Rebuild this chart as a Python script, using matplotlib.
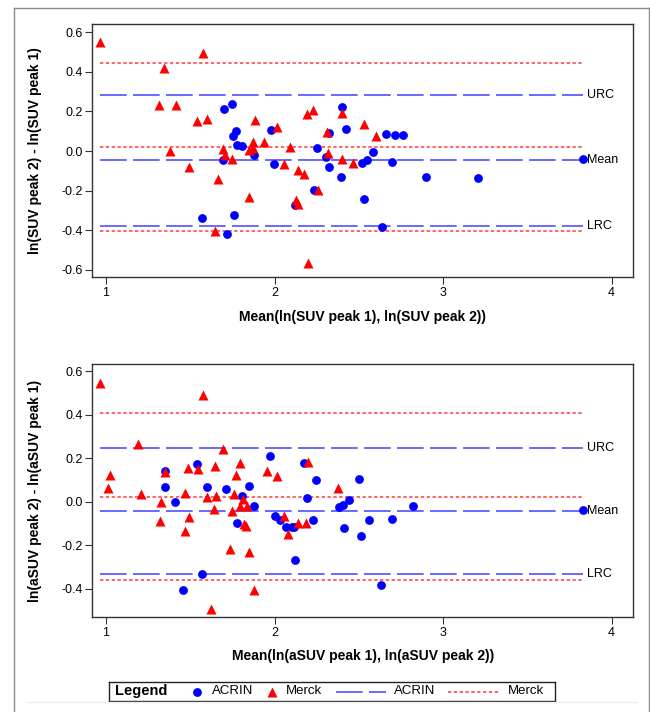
import matplotlib.pyplot as plt
from matplotlib.lines import Line2D

plt.rcParams['font.family'] = ['Liberation Sans', 'DejaVu Sans']

# SUV peak panel
suv_acrin_x = [1.701, 1.745, 1.755, 1.771, 1.775, 1.808, 1.695, 1.879, 1.571, 1.757,
               1.721, 1.982, 1.998, 2.120, 2.235, 2.251, 2.304, 2.322, 2.326, 2.393,
               2.399, 2.427, 2.529, 2.521, 2.547, 2.585, 2.664, 2.715, 2.762, 2.697,
               2.901, 3.209, 2.638, 3.829]
suv_acrin_y = [0.211, 0.238, 0.077, 0.101, 0.030, 0.027, -0.045, -0.020, -0.337, -0.324,
               -0.418, 0.104, -0.064, -0.273, -0.197, 0.017, -0.030, -0.083, 0.089, -0.133,
               0.224, 0.111, -0.243, -0.059, -0.045, -0.003, 0.086, 0.079, 0.081, -0.054,
               -0.131, -0.136, -0.384, -0.039]
suv_merck_x = [0.964, 1.573, 1.342, 1.312, 1.413, 1.543, 1.600, 1.887, 2.016, 1.379,
               1.492, 1.662, 1.692, 1.705, 1.745, 1.846, 1.873, 1.873, 1.935, 1.849,
               1.646, 2.091, 2.059, 2.142, 2.174, 2.128, 2.142, 2.193, 2.229, 2.257,
               2.310, 2.316, 2.399, 2.403, 2.468, 2.529, 2.197, 2.600]
suv_merck_y = [0.550, 0.494, 0.418, 0.234, 0.234, 0.152, 0.163, 0.157, 0.121, 0.000,
               -0.079, -0.143, 0.012, -0.022, -0.040, 0.007, 0.044, 0.017, 0.044, -0.234,
               -0.403, 0.019, -0.066, -0.098, -0.118, -0.248, -0.268, 0.186, 0.207, -0.197,
               0.096, -0.009, -0.040, 0.194, -0.059, 0.135, -0.565, 0.074]
suv_acrin_lines = [0.285, -0.045, -0.378]
suv_merck_lines = [0.446, 0.022, -0.403]

# aSUV peak panel
asuv_acrin_x = [1.348, 1.348, 1.409, 1.538, 1.597, 1.710, 1.808, 1.849, 1.879, 1.777,
                1.571, 1.458, 1.974, 2.000, 2.031, 2.071, 2.101, 2.114, 2.122, 2.174,
                2.193, 2.229, 2.247, 2.383, 2.405, 2.440, 2.411, 2.500, 2.516, 2.559,
                2.699, 2.824, 2.634, 3.829]
asuv_acrin_y = [0.141, 0.070, -0.001, 0.175, 0.068, 0.061, 0.028, 0.072, -0.017, -0.097,
                -0.333, -0.405, 0.213, -0.063, -0.084, -0.115, -0.117, -0.113, -0.268, 0.181,
                0.017, -0.084, 0.101, -0.021, -0.012, 0.008, -0.121, 0.104, -0.155, -0.084,
                -0.080, -0.018, -0.382, -0.038]
asuv_merck_x = [0.964, 1.573, 1.191, 1.692, 1.024, 1.014, 1.206, 1.348, 1.328, 1.322,
                1.488, 1.545, 1.468, 1.494, 1.468, 1.599, 1.650, 1.648, 1.642, 1.796,
                1.769, 1.761, 1.816, 1.796, 1.834, 1.745, 1.820, 1.828, 1.735, 1.849,
                1.877, 1.622, 1.958, 2.016, 2.057, 2.083, 2.140, 2.189, 2.197, 2.379]
asuv_merck_y = [0.549, 0.492, 0.267, 0.245, 0.123, 0.066, 0.037, 0.138, 0.000, -0.087,
                0.155, 0.152, 0.040, -0.068, -0.133, 0.024, 0.029, 0.167, -0.031, 0.178,
                0.126, 0.037, 0.015, -0.020, -0.018, -0.043, -0.100, -0.110, -0.215, -0.231,
                -0.405, -0.493, 0.144, 0.121, -0.063, -0.147, -0.097, -0.097, 0.185, 0.063]
asuv_acrin_lines = [0.250, -0.041, -0.331]
asuv_merck_lines = [0.408, 0.024, -0.359]

line_labels = ['URC', 'Mean', 'LRC']
y_ticks = [-0.6, -0.4, -0.2, 0.0, 0.2, 0.4, 0.6]
x_ticks = [1, 2, 3, 4]

BLUE = '#0000ff'
RED = '#ff0000'
BLUE_LINE = '#4f4fff'
RED_LINE = '#ff4a4a'
CIRCLE_S = 40
TRI_S = 52


def draw_panel(ax, ax_x, ax_y, mk_x, mk_y, acrin_lines, merck_lines, ylim, xlabel, ylabel):
    x_lo = min(ax_x + mk_x)
    x_hi = max(ax_x + mk_x)
    for v in merck_lines:
        ax.plot([x_lo, x_hi], [v, v], color=RED_LINE, lw=1.2, dashes=(2.0, 1.5), zorder=1)
    for v, lab in zip(acrin_lines, line_labels):
        ax.plot([x_lo, x_hi], [v, v], color=BLUE_LINE, lw=1.2, dashes=(16, 3.8), zorder=1)
        ax.annotate(lab, (x_hi, v), xytext=(3, 0), textcoords='offset points',
                    ha='left', va='center', fontsize=9)
    ax.scatter(ax_x, ax_y, s=CIRCLE_S, marker='o', color=BLUE, linewidths=0, zorder=3)
    ax.scatter(mk_x, mk_y, s=TRI_S, marker='^', color=RED, linewidths=0, zorder=3)

    ax.set_xlim(0.92, 4.127)
    ax.set_ylim(*ylim)
    ax.set_xticks(x_ticks)
    shown = [t for t in y_ticks if ylim[0] <= t <= ylim[1]]
    ax.set_yticks(shown)
    ax.set_yticklabels([f'{t:.1f}' for t in shown])
    ax.tick_params(direction='out', length=4.7, width=0.8, pad=2.3, labelsize=9,
                   color='#333333')
    for sp in ax.spines.values():
        sp.set_color('#333333')
        sp.set_linewidth(1.0)
    ax.set_xlabel(xlabel, fontsize=10, fontweight='bold')
    ax.set_ylabel(ylabel, fontsize=10, fontweight='bold')
    ax.xaxis.set_label_coords(0.5, -0.128)
    ax.yaxis.set_label_coords(-0.093, 0.5)


fig = plt.figure(figsize=(6.5, 7.12), dpi=100)

ax1 = fig.add_axes([0.1423, 0.6105, 0.8315, 0.3558])
draw_panel(ax1, suv_acrin_x, suv_acrin_y, suv_merck_x, suv_merck_y,
           suv_acrin_lines, suv_merck_lines, (-0.638, 0.642),
           'Mean(ln(SUV peak 1), ln(SUV peak 2))', 'ln(SUV peak 2) - ln(SUV peak 1)')

ax2 = fig.add_axes([0.1423, 0.1334, 0.8315, 0.3553])
draw_panel(ax2, asuv_acrin_x, asuv_acrin_y, asuv_merck_x, asuv_merck_y,
           asuv_acrin_lines, asuv_merck_lines, (-0.529, 0.634),
           'Mean(ln(aSUV peak 1), ln(aSUV peak 2))', 'ln(aSUV peak 2) - ln(aSUV peak 1)')

# outer frame
W, H = 650, 712
frame = dict(color='#8c8c8c', lw=1.0, transform=fig.transFigure)
fig.add_artist(Line2D([13.5 / W, 13.5 / W], [0, 1 - 7.5 / H], **frame))
fig.add_artist(Line2D([13.5 / W, 648.5 / W], [1 - 7.5 / H, 1 - 7.5 / H], **frame))
fig.add_artist(Line2D([648.5 / W, 648.5 / W], [0, 1 - 7.5 / H], **frame))
fig.add_artist(Line2D([28 / W, 637 / W], [1 - 702 / H, 1 - 702 / H],
                      color='#ececec', lw=1.0, transform=fig.transFigure))

# legend box
lg = fig.add_axes([109 / W, 1 - 701 / H, 446 / W, 19 / H])
lg.set_xlim(109, 555)
lg.set_ylim(0, 1)
lg.set_xticks([])
lg.set_yticks([])
for sp in lg.spines.values():
    sp.set_color('#222222')
    sp.set_linewidth(1.0)
lg.text(115, 0.5, 'Legend', fontsize=10.5, fontweight='bold', va='center', ha='left')
lg.scatter([197], [0.5], s=CIRCLE_S, marker='o', color=BLUE, linewidths=0)
lg.text(212, 0.5, 'ACRIN', fontsize=9.5, va='center', ha='left')
lg.scatter([272], [0.5], s=TRI_S, marker='^', color=RED, linewidths=0)
lg.text(286, 0.5, 'Merck', fontsize=9.5, va='center', ha='left')
lg.plot([336, 386], [0.5, 0.5], color=BLUE_LINE, lw=1.2, dashes=(16, 3.8))
lg.text(394, 0.5, 'ACRIN', fontsize=9.5, va='center', ha='left')
lg.plot([448, 498], [0.5, 0.5], color=RED_LINE, lw=1.2, dashes=(2.0, 1.5))
lg.text(508, 0.5, 'Merck', fontsize=9.5, va='center', ha='left')

fig.savefig('out.png', dpi=100)
